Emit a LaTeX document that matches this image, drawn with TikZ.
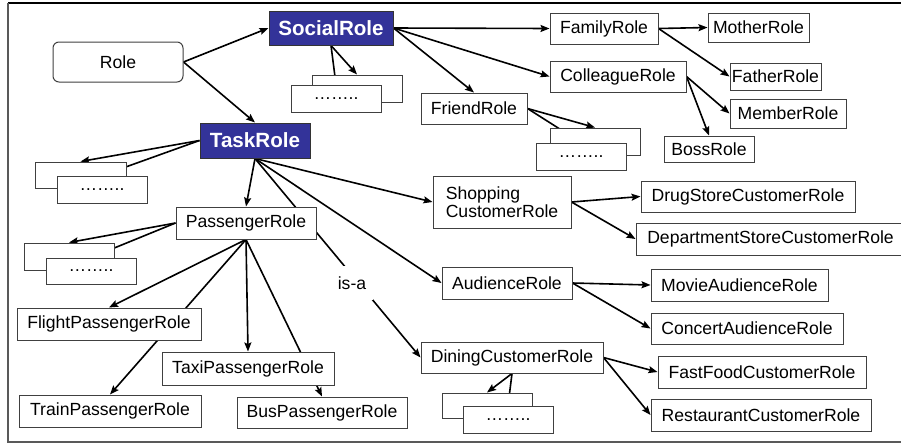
\documentclass[tikz,border=0pt]{standalone}
\usepackage{fontspec}
\setmainfont{Liberation Sans}
\usetikzlibrary{arrows.meta,backgrounds}
\definecolor{myblue}{RGB}{51,51,153}
\begin{document}
\begin{tikzpicture}[x=1pt,y=-1pt,
  box/.style={draw=black!75, line width=1pt, fill=white, inner sep=1pt, font=\fontsize{17.6}{17.5}\selectfont},
  sz/.style 2 args={minimum width=#1pt, minimum height=#2pt},
  rolebox/.style={box, draw=black!80, fill=myblue, text=white, font=\fontsize{20.6}{22}\selectfont\bfseries},
  arr/.style={-{Stealth[length=9pt,width=7pt,inset=1.5pt]}, line width=1.6pt},
  ln/.style={line width=1.6pt}]
\useasboundingbox (0,0) rectangle (901,445);
% frame
\draw[black, line width=1.5pt] (8,3) -- (910,3);
\draw[black!65, line width=1.3pt] (8,3) -- (8,442) -- (910,442);

% nodes
\node[box, sz={130}{40}, rounded corners=6pt] (role) at (118,62) {Role};
\node[rolebox, sz={124}{34}] (social) at (331,28) {SocialRole};
\node[rolebox, sz={110}{35}] (task) at (255,140.5) {TaskRole};

\node[box, sz={90}{27}] (s1back) at (357,88.5) {};
\node[box, sz={90}{27}] (s1front) at (336,98.5) {……..};
\node[box, sz={91}{26}] (t1back) at (80.5,175) {};
\node[box, sz={90}{27}] (t1front) at (102,189.5) {……..};

\node[box, sz={108}{31}] (family) at (604,28.5) {FamilyRole};
\node[box, sz={101}{29}] (mother) at (758.5,27.5) {MotherRole};
\node[box, sz={136}{31}] (colleague) at (618,76.5) {ColleagueRole};
\node[box, sz={91}{27}, inner sep=0pt] (father) at (775.5,76.5) {FatherRole};
\node[box, sz={116}{29}] (member) at (788,113.5) {MemberRole};
\node[box, sz={90}{26}] (boss) at (709,149) {BossRole};
\node[box, sz={106}{31}] (friend) at (474,108.5) {FriendRole};
\node[box, sz={90}{27}] (f1back) at (595,141.5) {};
\node[box, sz={90}{27}] (f1front) at (581,156.5) {……..};

\node[box, sz={138}{52}, align=left] (shopping) at (502,202) {Shopping\\CustomerRole};
\node[box, sz={214}{31}] (drug) at (748,196.5) {DrugStoreCustomerRole};
\node[box, sz={269}{32}] (dept) at (770.5,239) {DepartmentStoreCustomerRole};
\node[box, sz={130}{32}] (audience) at (507,283) {AudienceRole};
\node[box, sz={177}{32}] (movie) at (739.5,285) {MovieAudienceRole};
\node[box, sz={192}{31}] (concert) at (747,328.5) {ConcertAudienceRole};
\node[box, sz={182}{31}] (dining) at (512,357.5) {DiningCustomerRole};
\node[box, sz={208}{32}] (fastfood) at (762,372) {FastFoodCustomerRole};
\node[box, sz={220}{32}] (restaurant) at (761,415) {RestaurantCustomerRole};
\node[box, sz={90}{25}] (d1back) at (487,405.5) {};
\node[box, sz={90}{27}] (d1front) at (508,419.5) {……..};

\node[box, sz={140}{32}] (passenger) at (246,223) {PassengerRole};
\node[box, sz={90}{27}] (p1back) at (69,256.5) {};
\node[box, sz={90}{26}] (p1front) at (91,271) {……..};
\node[box, sz={184}{32}] (flight) at (109,324) {FlightPassengerRole};
\node[box, sz={172}{33}] (taxi) at (248,368.5) {TaxiPassengerRole};
\node[box, sz={182}{32}] (train) at (110,411) {TrainPassengerRole};
\node[box, sz={170}{31}] (bus) at (322,412.5) {BusPassengerRole};

% connectors behind the boxes
\begin{scope}[on background layer]
\draw[arr] (role.east) -- (social.west);
\draw[arr] (role.east) -- (task.north);
\draw[arr] (social.south) -- (s1back.north);
\draw[arr] (social.south) -- (s1front.north);
\draw[arr] (task.west) -- (t1back.north);
\draw[arr] (task.west) -- (t1front.north);
\draw[arr] (social.east) -- (family.west);
\draw[arr] (social.east) -- (colleague.west);
\draw[arr] (social.east) -- (friend.north);
\draw[arr] (family.east) -- (mother.west);
\draw[arr] (family.east) -- (father.west);
\draw[arr] (colleague.east) -- (member.west);
\draw[arr] (colleague.east) -- (boss.north);
\draw[arr] (friend.east) -- (f1back.north);
\draw[arr] (friend.east) -- (f1front.north);
\draw[arr] (task.south) -- (passenger.north);
\draw[arr] (task.south) -- (shopping.west);
\draw[arr] (task.south) -- (audience.west);
\draw[arr] (task.south) -- (dining.west);
\draw[arr] (passenger.west) -- (p1back.north);
\draw[arr] (passenger.west) -- (p1front.north);
\draw[arr] (passenger.south) -- (flight.north);
\draw[arr] (passenger.south) -- (train.north);
\draw[arr] (passenger.south) -- (taxi.north);
\draw[arr] (passenger.south) -- (bus.north);
\draw[arr] (shopping.east) -- (drug.west);
\draw[arr] (shopping.east) -- (dept.west);
\draw[arr] (audience.east) -- (movie.west);
\draw[arr] (audience.east) -- (concert.west);
\draw[arr] (dining.east) -- (fastfood.west);
\draw[arr] (dining.east) -- (restaurant.west);
\draw[arr] (dining.south) -- (d1back.north);
\draw[arr] (dining.south) -- (d1front.north);
\end{scope}

\node[fill=white, minimum width=42pt, minimum height=34pt, inner sep=0pt, font=\fontsize{17.6}{17.5}\selectfont] (isa) at (352,283) {is-a};
\end{tikzpicture}
\end{document}
